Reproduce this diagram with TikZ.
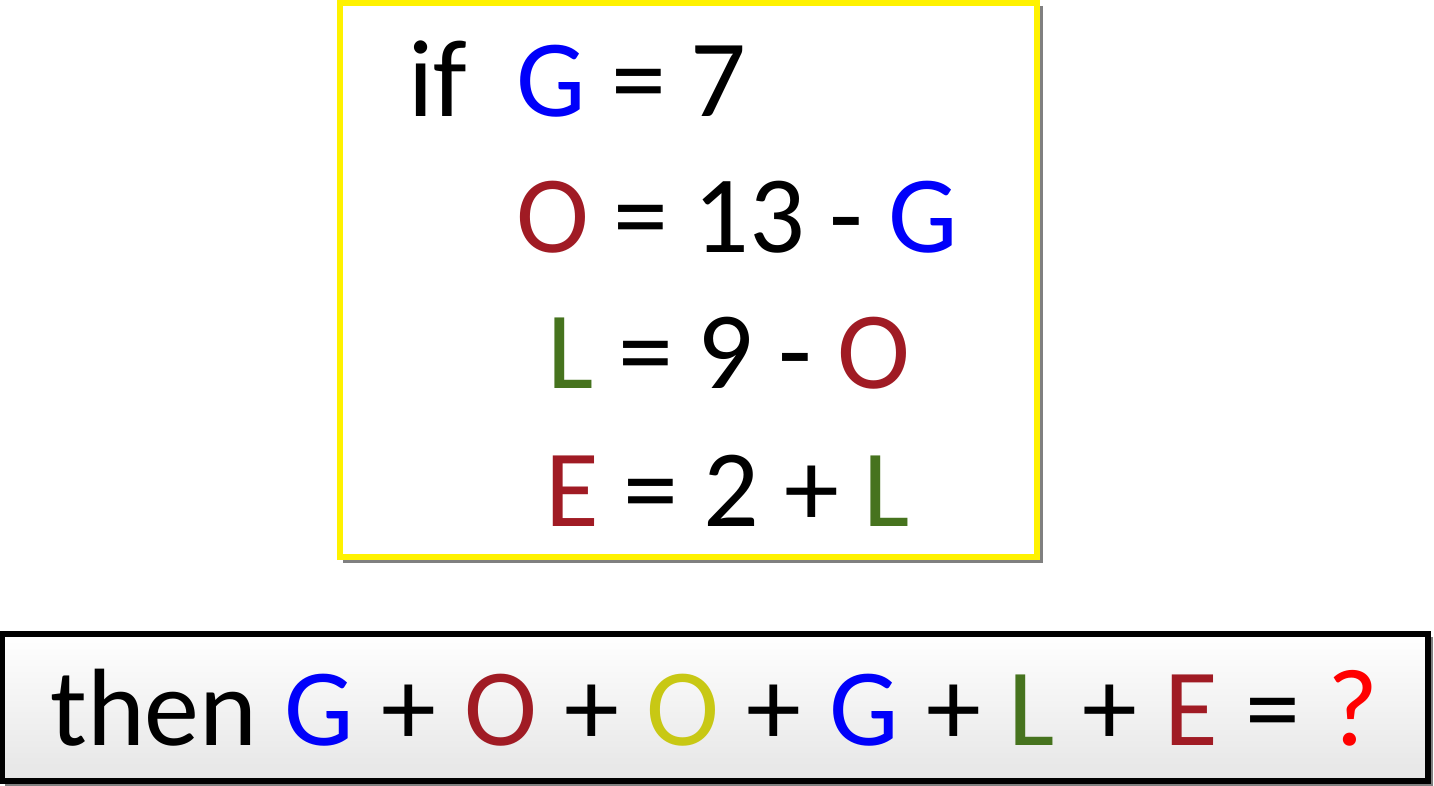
\documentclass[tikz,border=0pt]{standalone}
\usepackage{fontspec}
\setmainfont{Carlito}
\definecolor{gblue}{RGB}{0,0,250}
\definecolor{ored}{RGB}{160,27,36}
\definecolor{lgreen}{RGB}{70,115,30}
\definecolor{oyellow}{RGB}{200,200,20}
\definecolor{qred}{RGB}{255,0,0}
\tikzset{
  eq/.style={anchor=base west, inner sep=0pt, font=\fontsize{110}{130}\selectfont},
  framebox/.style={line width=5.5pt},
  shadowline/.style={line width=4pt, draw=black!50}
}
\begin{document}
\begin{tikzpicture}[x=1pt,y=-1pt]
\useasboundingbox (0,0) rectangle (1434,786);
% top box
\draw[shadowline] (1041,6) -- (1041,561) -- (343,561);
\draw[framebox, draw=yellow, fill=white] (340,3) rectangle (1037,557);
% bottom box
\draw[shadowline] (1431,637) -- (1431,785) -- (5,785);
\shade[top color=white, bottom color=black!10] (2,634) rectangle (1428,781);
\draw[framebox, draw=black] (2,634) rectangle (1428,781);
% equations
\node[eq] (l1) at (408,117) {if\ \ \textcolor{gblue}{G} = 7};
\node[eq] (l2) at (516,253) {\textcolor{ored}{O} = 13 - \textcolor{gblue}{G}};
\node[eq] (l3) at (547,388) {\textcolor{lgreen}{L} = 9 - \textcolor{ored}{O}};
\node[eq] (l4) at (545,526) {\textcolor{ored}{E} = 2 + \textcolor{lgreen}{L}};
\node[eq] (l5) at (50,745) {\spaceskip=27.5pt then \textcolor{gblue}{G} + \textcolor{ored}{O} + \textcolor{oyellow}{O} + \textcolor{gblue}{G} + \textcolor{lgreen}{L} + \textcolor{ored}{E} = \textcolor{qred}{?}};
\end{tikzpicture}
\end{document}
